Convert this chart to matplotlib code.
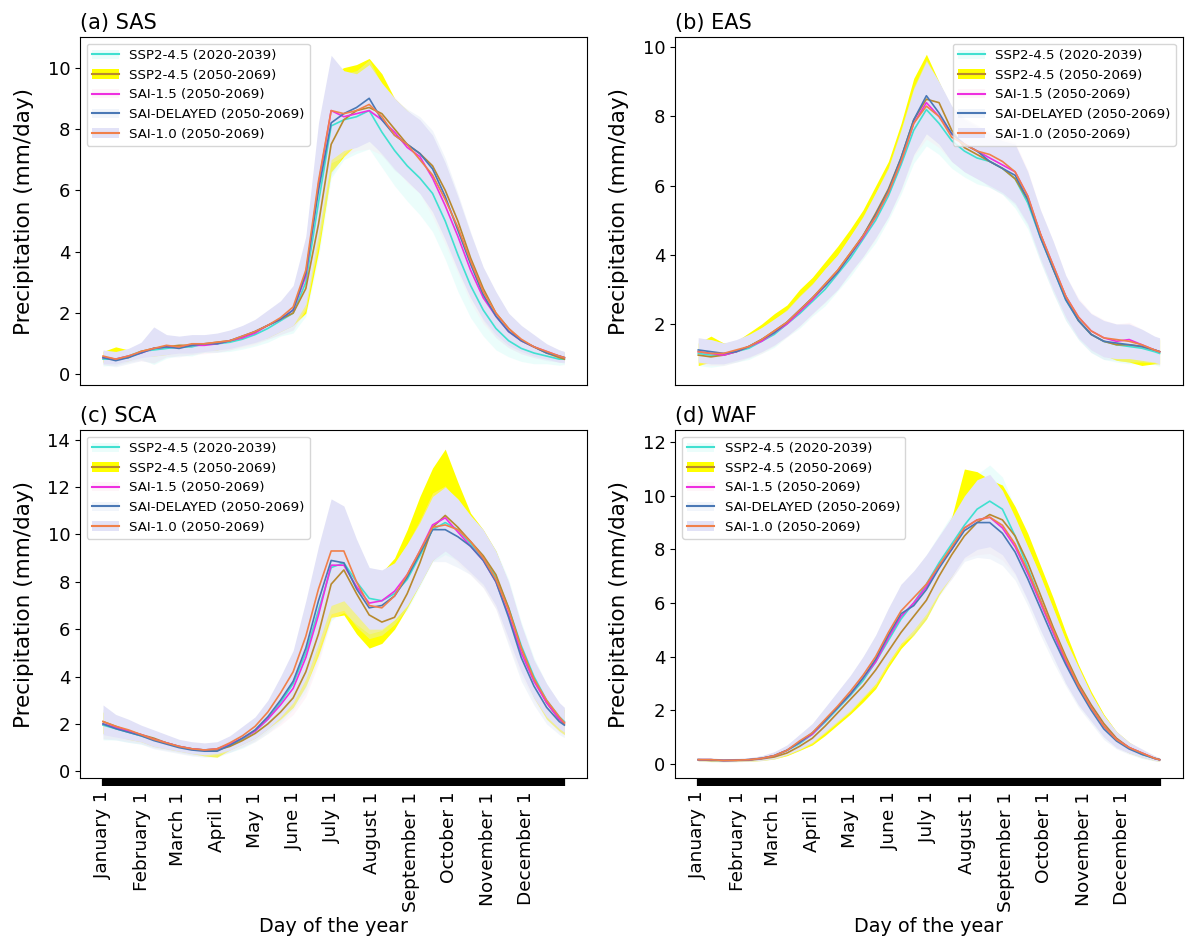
import matplotlib
matplotlib.use("Agg")
import matplotlib.pyplot as plt
from matplotlib.patches import Patch
from matplotlib.lines import Line2D

days = [1, 11, 21, 31, 41, 51, 61, 71, 81, 91, 101, 111, 121, 131, 141, 151, 161, 171, 181,
        191, 201, 211, 221, 231, 241, 251, 261, 271, 281, 291, 301, 311, 321, 331, 341, 351, 361, 365]

month_days = [1, 32, 60, 91, 121, 152, 182, 213, 244, 274, 305, 335]
month_labels = ["January 1", "February 1", "March 1", "April 1", "May 1", "June 1",
                "July 1", "August 1", "September 1", "October 1", "November 1", "December 1"]

scenarios = ["SSP2-4.5 (2020-2039)", "SSP2-4.5 (2050-2069)", "SAI-1.5 (2050-2069)",
             "SAI-DELAYED (2050-2069)", "SAI-1.0 (2050-2069)"]
line_colors = ["turquoise", "#b8892e", "#ee2fe0", "#4a78b5", "#f0804a"]
band_colors = ["#c8fbf6", "yellow", "#fde4ef", "#dde7f5", "#e2e2f7"]
band_alphas = [0.35, 1.0, 0.35, 0.4, 1.0]

# ---- (a) SAS
sas_ssp_early = [0.50, 0.50, 0.60, 0.75, 0.80, 0.85, 0.90, 0.90, 1.00, 1.00, 1.05, 1.15, 1.30, 1.50, 1.75, 2.00, 3.00, 5.60, 8.10,
                 8.30, 8.40, 8.60, 7.90, 7.30, 6.80, 6.40, 5.90, 5.00, 3.90, 2.90, 2.10, 1.50, 1.10, 0.85, 0.70, 0.60, 0.50, 0.50]
sas_ssp_late = [0.55, 0.50, 0.55, 0.75, 0.85, 0.90, 0.95, 0.95, 1.00, 1.05, 1.10, 1.20, 1.40, 1.60, 1.80, 2.00, 2.80, 4.90, 7.50,
                8.30, 8.60, 8.70, 8.50, 8.00, 7.50, 7.20, 6.80, 6.00, 5.00, 3.80, 2.80, 2.00, 1.50, 1.10, 0.90, 0.70, 0.55, 0.50]
sas_sai15 = [0.55, 0.50, 0.60, 0.70, 0.85, 0.90, 0.90, 0.95, 0.95, 1.00, 1.10, 1.20, 1.35, 1.60, 1.80, 2.10, 3.20, 6.20, 8.60,
             8.40, 8.50, 8.60, 8.30, 7.90, 7.40, 7.10, 6.40, 5.50, 4.50, 3.40, 2.50, 1.90, 1.40, 1.10, 0.90, 0.75, 0.60, 0.55]
sas_delayed = [0.55, 0.45, 0.55, 0.70, 0.85, 0.90, 0.85, 0.95, 1.00, 1.00, 1.10, 1.25, 1.40, 1.60, 1.80, 2.10, 3.30, 6.00, 8.20,
               8.50, 8.70, 9.00, 8.30, 7.80, 7.50, 7.20, 6.70, 5.80, 4.70, 3.60, 2.60, 1.90, 1.40, 1.10, 0.90, 0.70, 0.60, 0.55]
sas_sai10 = [0.60, 0.50, 0.60, 0.75, 0.85, 0.95, 0.90, 1.00, 1.00, 1.05, 1.10, 1.25, 1.40, 1.60, 1.85, 2.20, 3.40, 6.30, 8.60,
             8.50, 8.60, 8.80, 8.40, 7.80, 7.50, 7.00, 6.50, 5.70, 4.80, 3.70, 2.70, 2.00, 1.50, 1.15, 0.90, 0.75, 0.60, 0.55]
sas_lav_lo = [0.35, 0.35, 0.45, 0.55, 0.60, 0.65, 0.70, 0.70, 0.75, 0.80, 0.85, 0.95, 1.05, 1.20, 1.40, 1.60, 2.30, 4.60, 7.00,
              7.30, 7.40, 7.60, 7.20, 6.70, 6.30, 5.90, 5.30, 4.40, 3.40, 2.50, 1.80, 1.30, 0.95, 0.75, 0.60, 0.50, 0.40, 0.40]
sas_lav_hi = [0.80, 0.75, 0.85, 1.05, 1.55, 1.30, 1.25, 1.30, 1.30, 1.35, 1.45, 1.60, 1.80, 2.10, 2.40, 2.90, 4.50, 8.20, 10.40,
              9.90, 9.80, 10.10, 9.50, 9.00, 8.60, 8.30, 7.80, 6.90, 5.80, 4.60, 3.50, 2.70, 2.00, 1.60, 1.30, 1.00, 0.80, 0.75]
sas_yel_lo = [0.40, 0.40, 0.45, 0.60, 0.60, 0.65, 0.75, 0.75, 0.80, 0.80, 0.90, 1.00, 1.10, 1.20, 1.40, 1.60, 2.00, 4.00, 6.60,
              7.10, 7.50, 7.70, 7.30, 6.80, 6.40, 6.00, 5.40, 4.50, 3.50, 2.60, 1.90, 1.40, 1.00, 0.80, 0.65, 0.55, 0.45, 0.45]
sas_yel_hi = [0.75, 0.90, 0.80, 0.95, 1.20, 1.25, 1.20, 1.25, 1.25, 1.30, 1.40, 1.55, 1.70, 2.00, 2.30, 2.70, 4.00, 7.50, 9.80,
              10.00, 10.10, 10.30, 9.80, 9.00, 8.60, 8.20, 7.70, 6.80, 5.60, 4.40, 3.30, 2.50, 1.90, 1.50, 1.20, 0.95, 0.75, 0.70]

# ---- (b) EAS
eas_ssp_early = [1.15, 1.10, 1.10, 1.20, 1.30, 1.50, 1.70, 2.00, 2.30, 2.65, 3.00, 3.45, 3.90, 4.45, 5.00, 5.70, 6.60, 7.60, 8.20,
                 7.80, 7.30, 7.00, 6.80, 6.70, 6.50, 6.20, 5.50, 4.50, 3.60, 2.70, 2.10, 1.70, 1.50, 1.40, 1.35, 1.30, 1.20, 1.15]
eas_ssp_late = [1.10, 1.05, 1.10, 1.20, 1.35, 1.55, 1.80, 2.05, 2.40, 2.75, 3.15, 3.55, 4.05, 4.55, 5.20, 5.90, 6.80, 7.90, 8.50,
                8.40, 7.60, 7.10, 6.90, 6.70, 6.50, 6.20, 5.60, 4.60, 3.60, 2.80, 2.10, 1.70, 1.50, 1.40, 1.40, 1.35, 1.25, 1.20]
eas_sai15 = [1.20, 1.15, 1.10, 1.20, 1.35, 1.50, 1.75, 2.00, 2.35, 2.70, 3.10, 3.50, 4.00, 4.50, 5.10, 5.80, 6.70, 7.80, 8.40,
             8.00, 7.50, 7.20, 7.00, 6.80, 6.60, 6.40, 5.70, 4.60, 3.70, 2.80, 2.20, 1.80, 1.60, 1.50, 1.55, 1.40, 1.25, 1.20]
eas_delayed = [1.25, 1.20, 1.15, 1.20, 1.35, 1.55, 1.75, 2.05, 2.40, 2.75, 3.10, 3.50, 4.00, 4.55, 5.15, 5.85, 6.80, 7.90, 8.60,
               8.10, 7.50, 7.20, 7.00, 6.70, 6.50, 6.30, 5.60, 4.50, 3.60, 2.70, 2.10, 1.70, 1.50, 1.45, 1.40, 1.35, 1.25, 1.20]
eas_sai10 = [1.20, 1.15, 1.15, 1.25, 1.35, 1.55, 1.80, 2.05, 2.40, 2.75, 3.15, 3.55, 4.05, 4.55, 5.10, 5.80, 6.70, 7.80, 8.30,
             8.00, 7.40, 7.20, 7.00, 6.90, 6.70, 6.40, 5.70, 4.60, 3.70, 2.80, 2.20, 1.80, 1.60, 1.55, 1.50, 1.40, 1.25, 1.20]
eas_lav_lo = [0.90, 0.85, 0.85, 0.95, 1.05, 1.20, 1.40, 1.65, 1.95, 2.30, 2.65, 3.00, 3.50, 3.95, 4.50, 5.10, 5.90, 6.90, 7.50,
              7.20, 6.70, 6.40, 6.20, 6.00, 5.80, 5.50, 4.90, 3.90, 3.00, 2.20, 1.60, 1.25, 1.05, 1.00, 1.00, 0.95, 0.90, 0.85]
eas_lav_hi = [1.60, 1.55, 1.45, 1.55, 1.70, 1.90, 2.15, 2.40, 2.80, 3.15, 3.60, 4.00, 4.55, 5.10, 5.80, 6.50, 7.60, 8.80, 9.60,
              9.00, 8.30, 7.90, 7.70, 7.50, 7.30, 7.20, 6.40, 5.30, 4.40, 3.40, 2.70, 2.30, 2.10, 2.00, 2.00, 1.85, 1.65, 1.60]
eas_yel_lo = [0.80, 0.90, 0.90, 1.00, 1.10, 1.25, 1.45, 1.70, 2.00, 2.35, 2.70, 3.10, 3.60, 4.00, 4.60, 5.20, 6.00, 7.00, 7.60,
              7.30, 6.80, 6.50, 6.30, 6.10, 5.90, 5.60, 5.00, 4.00, 3.10, 2.30, 1.70, 1.30, 1.10, 0.95, 0.90, 0.80, 0.85, 0.85]
eas_yel_hi = [1.45, 1.65, 1.45, 1.50, 1.75, 2.00, 2.30, 2.55, 3.00, 3.35, 3.80, 4.25, 4.75, 5.30, 6.00, 6.70, 7.80, 9.10, 9.80,
              9.00, 8.20, 7.80, 7.60, 7.40, 7.20, 7.00, 6.30, 5.20, 4.30, 3.30, 2.60, 2.25, 2.05, 1.95, 1.95, 1.80, 1.60, 1.55]

# ---- (c) SCA
sca_ssp_early = [1.95, 1.80, 1.65, 1.50, 1.35, 1.20, 1.05, 0.95, 0.90, 0.95, 1.10, 1.35, 1.70, 2.20, 2.90, 3.70, 5.00, 6.80, 8.60,
                 8.80, 8.00, 7.30, 7.20, 7.50, 8.10, 9.10, 10.20, 10.50, 10.20, 9.60, 9.00, 8.20, 6.90, 5.30, 4.00, 3.00, 2.30, 2.10]
sca_ssp_late = [2.10, 1.90, 1.70, 1.55, 1.40, 1.20, 1.05, 0.95, 0.90, 0.90, 1.05, 1.30, 1.60, 2.00, 2.50, 3.10, 4.20, 5.80, 7.90,
                8.50, 7.50, 6.60, 6.30, 6.50, 7.50, 8.80, 10.30, 10.80, 10.30, 9.70, 9.10, 8.30, 6.90, 5.20, 3.90, 2.90, 2.20, 2.00]
sca_sai15 = [2.00, 1.85, 1.70, 1.55, 1.35, 1.20, 1.05, 0.95, 0.90, 0.95, 1.15, 1.40, 1.70, 2.20, 2.80, 3.50, 4.80, 6.60, 8.70,
             8.70, 7.80, 7.10, 7.20, 7.60, 8.30, 9.30, 10.40, 10.70, 10.10, 9.50, 8.90, 8.00, 6.60, 5.00, 3.80, 2.90, 2.20, 2.05]
sca_delayed = [2.00, 1.80, 1.65, 1.50, 1.30, 1.15, 1.00, 0.90, 0.85, 0.85, 1.10, 1.40, 1.75, 2.30, 3.00, 3.80, 5.20, 7.20, 8.90,
               8.80, 7.70, 6.90, 7.00, 7.40, 8.20, 9.20, 10.20, 10.20, 9.90, 9.50, 8.90, 8.00, 6.50, 4.80, 3.60, 2.70, 2.10, 1.95]
sca_sai10 = [2.10, 1.90, 1.75, 1.55, 1.35, 1.20, 1.05, 0.95, 0.90, 0.95, 1.20, 1.50, 1.90, 2.50, 3.30, 4.20, 5.70, 7.70, 9.30,
             9.30, 8.00, 7.00, 6.90, 7.40, 8.30, 9.30, 10.30, 10.40, 10.20, 9.70, 9.00, 8.10, 6.80, 5.20, 3.90, 3.00, 2.30, 2.05]
sca_lav_lo = [1.55, 1.45, 1.35, 1.25, 1.05, 0.95, 0.85, 0.75, 0.70, 0.75, 0.90, 1.15, 1.40, 1.80, 2.30, 2.90, 3.90, 5.40, 7.00,
              7.20, 6.60, 6.00, 6.00, 6.40, 7.00, 7.90, 8.90, 9.30, 8.90, 8.40, 7.90, 7.00, 5.60, 4.20, 3.10, 2.30, 1.80, 1.65]
sca_lav_hi = [2.80, 2.40, 2.20, 1.95, 1.75, 1.55, 1.35, 1.25, 1.20, 1.25, 1.50, 1.90, 2.30, 3.00, 4.00, 5.10, 7.20, 9.50, 11.50,
              11.20, 9.80, 8.60, 8.50, 8.80, 9.60, 10.50, 11.60, 12.00, 11.50, 10.80, 10.20, 9.30, 8.00, 6.20, 4.70, 3.70, 2.90, 2.70]
sca_yel_lo = [1.60, 1.50, 1.35, 1.25, 1.05, 0.95, 0.85, 0.75, 0.65, 0.60, 0.90, 1.15, 1.40, 1.80, 2.20, 2.70, 3.60, 4.90, 6.50,
              6.60, 5.80, 5.20, 5.40, 6.00, 6.90, 7.90, 8.90, 9.40, 9.00, 8.50, 8.00, 7.10, 5.70, 4.30, 3.10, 2.20, 1.70, 1.55]
sca_yel_hi = [2.50, 2.30, 2.10, 1.90, 1.70, 1.50, 1.30, 1.20, 1.15, 1.20, 1.40, 1.80, 2.20, 2.80, 3.60, 4.60, 6.40, 8.60, 10.80,
              10.80, 9.40, 8.40, 8.40, 9.00, 10.20, 11.60, 12.80, 13.60, 12.20, 10.90, 10.20, 9.30, 7.90, 6.10, 4.60, 3.60, 2.80, 2.60]

# ---- (d) WAF
waf_ssp_early = [0.15, 0.13, 0.12, 0.13, 0.15, 0.20, 0.30, 0.50, 0.75, 1.10, 1.55, 2.05, 2.55, 3.10, 3.80, 4.60, 5.40, 6.00, 6.70,
                 7.50, 8.20, 8.90, 9.50, 9.80, 9.50, 8.50, 7.30, 6.10, 4.90, 3.80, 2.90, 2.10, 1.40, 0.90, 0.60, 0.35, 0.20, 0.15]
waf_ssp_late = [0.15, 0.12, 0.12, 0.12, 0.13, 0.18, 0.25, 0.40, 0.65, 0.95, 1.40, 1.90, 2.40, 2.90, 3.50, 4.20, 4.90, 5.50, 6.10,
                7.00, 7.80, 8.50, 9.00, 9.30, 9.10, 8.50, 7.50, 6.30, 5.10, 4.00, 3.00, 2.20, 1.50, 0.95, 0.60, 0.40, 0.20, 0.15]
waf_sai15 = [0.15, 0.15, 0.12, 0.13, 0.15, 0.20, 0.30, 0.50, 0.80, 1.10, 1.60, 2.10, 2.60, 3.20, 3.80, 4.70, 5.50, 6.00, 6.60,
             7.40, 8.00, 8.80, 9.10, 9.20, 8.80, 8.10, 7.10, 6.00, 4.90, 3.80, 2.90, 2.10, 1.40, 0.90, 0.60, 0.40, 0.20, 0.15]
waf_delayed = [0.15, 0.15, 0.12, 0.13, 0.15, 0.20, 0.30, 0.50, 0.80, 1.15, 1.60, 2.10, 2.60, 3.20, 3.90, 4.80, 5.60, 5.90, 6.50,
               7.30, 8.00, 8.70, 9.00, 9.00, 8.60, 7.90, 6.90, 5.80, 4.70, 3.70, 2.80, 2.00, 1.30, 0.85, 0.55, 0.35, 0.20, 0.15]
waf_sai10 = [0.15, 0.15, 0.12, 0.13, 0.15, 0.20, 0.30, 0.50, 0.85, 1.15, 1.65, 2.15, 2.70, 3.30, 4.00, 4.90, 5.70, 6.20, 6.70,
             7.40, 8.10, 8.80, 9.10, 9.20, 8.90, 8.20, 7.20, 6.10, 5.00, 3.90, 2.90, 2.10, 1.40, 0.90, 0.60, 0.40, 0.20, 0.15]
waf_lav_lo = [0.10, 0.10, 0.08, 0.09, 0.10, 0.13, 0.20, 0.35, 0.55, 0.80, 1.20, 1.60, 2.00, 2.50, 3.00, 3.80, 4.50, 5.00, 5.60,
              6.40, 7.00, 7.70, 8.00, 8.10, 7.80, 7.10, 6.10, 5.00, 4.00, 3.00, 2.20, 1.60, 1.00, 0.60, 0.40, 0.25, 0.12, 0.10]
waf_lav_hi = [0.22, 0.22, 0.18, 0.20, 0.22, 0.30, 0.45, 0.70, 1.10, 1.50, 2.10, 2.70, 3.30, 4.00, 4.80, 5.80, 6.70, 7.20, 7.80,
              8.50, 9.20, 10.00, 10.60, 10.80, 10.20, 9.20, 8.10, 7.00, 5.80, 4.60, 3.60, 2.60, 1.80, 1.20, 0.80, 0.55, 0.30, 0.22]
waf_yel_lo = [0.10, 0.08, 0.08, 0.08, 0.09, 0.12, 0.18, 0.30, 0.50, 0.70, 1.05, 1.45, 1.85, 2.30, 2.80, 3.60, 4.30, 4.80, 5.40,
              6.30, 7.00, 7.80, 8.20, 8.40, 8.10, 7.40, 6.40, 5.30, 4.20, 3.20, 2.40, 1.70, 1.10, 0.65, 0.40, 0.25, 0.12, 0.10]
waf_yel_hi = [0.20, 0.20, 0.17, 0.18, 0.20, 0.28, 0.42, 0.65, 1.00, 1.40, 1.95, 2.50, 3.10, 3.70, 4.40, 5.20, 6.00, 6.80, 7.50,
              8.30, 9.20, 11.00, 10.90, 10.60, 10.40, 9.60, 8.60, 7.40, 6.20, 4.90, 3.70, 2.70, 1.85, 1.20, 0.80, 0.50, 0.28, 0.20]

panels = [
    ("(a) SAS", [sas_ssp_early, sas_ssp_late, sas_sai15, sas_delayed, sas_sai10],
     sas_lav_lo, sas_lav_hi, sas_yel_lo, sas_yel_hi, (-0.35, 11.0), "upper left"),
    ("(b) EAS", [eas_ssp_early, eas_ssp_late, eas_sai15, eas_delayed, eas_sai10],
     eas_lav_lo, eas_lav_hi, eas_yel_lo, eas_yel_hi, (0.23, 10.3), "upper right"),
    ("(c) SCA", [sca_ssp_early, sca_ssp_late, sca_sai15, sca_delayed, sca_sai10],
     sca_lav_lo, sca_lav_hi, sca_yel_lo, sca_yel_hi, (-0.3, 14.4), "upper left"),
    ("(d) WAF", [waf_ssp_early, waf_ssp_late, waf_sai15, waf_delayed, waf_sai10],
     waf_lav_lo, waf_lav_hi, waf_yel_lo, waf_yel_hi, (-0.55, 12.45), "upper left"),
]

fig, axes = plt.subplots(2, 2, figsize=(11.85, 9.47), dpi=100, sharex=True)
fig.subplots_adjust(left=0.0675, right=0.998, top=0.961, bottom=0.178, wspace=0.173, hspace=0.129)

for k, (ax, (title, means, lav_lo, lav_hi, yel_lo, yel_hi, ylim, loc)) in enumerate(zip(axes.flat, panels)):
    # spread of the faint bands taken from the SAI-1.0 band
    half = [(h - l) / 2 for l, h in zip(lav_lo, lav_hi)]
    for i in range(5):
        if i == 1:
            lo, hi = yel_lo, yel_hi
        elif i == 4:
            lo, hi = lav_lo, lav_hi
        else:
            lo = [m - s for m, s in zip(means[i], half)]
            hi = [m + s for m, s in zip(means[i], half)]
        ax.fill_between(days, lo, hi, color=band_colors[i], alpha=band_alphas[i], lw=0)
    for i in range(5):
        ax.plot(days, means[i], color=line_colors[i], lw=1.2)

    handles = [(Patch(facecolor=band_colors[i], alpha=band_alphas[i]), Line2D([], [], color=line_colors[i], lw=1.5))
               for i in range(5)]
    ax.legend(handles, scenarios, loc=loc, fontsize=9.6)
    ax.set_title(title, loc="left", fontsize=15)
    ax.set_ylabel("Precipitation (mm/day)", fontsize=15.5, labelpad=10)
    ax.set_ylim(*ylim)
    ax.tick_params(axis="y", labelsize=13)

    if k < 2:
        ax.tick_params(axis="x", which="both", bottom=False, labelbottom=False)
    else:
        ax.set_xticks(month_days)
        ax.set_xticklabels(month_labels, rotation=90, fontsize=13.3)
        ax.set_xticks(range(1, 366), minor=True)
        ax.tick_params(axis="x", which="both", length=6, width=1.6)
        ax.set_xlabel("Day of the year", fontsize=13.8)

fig.savefig("out.png", dpi=100)
